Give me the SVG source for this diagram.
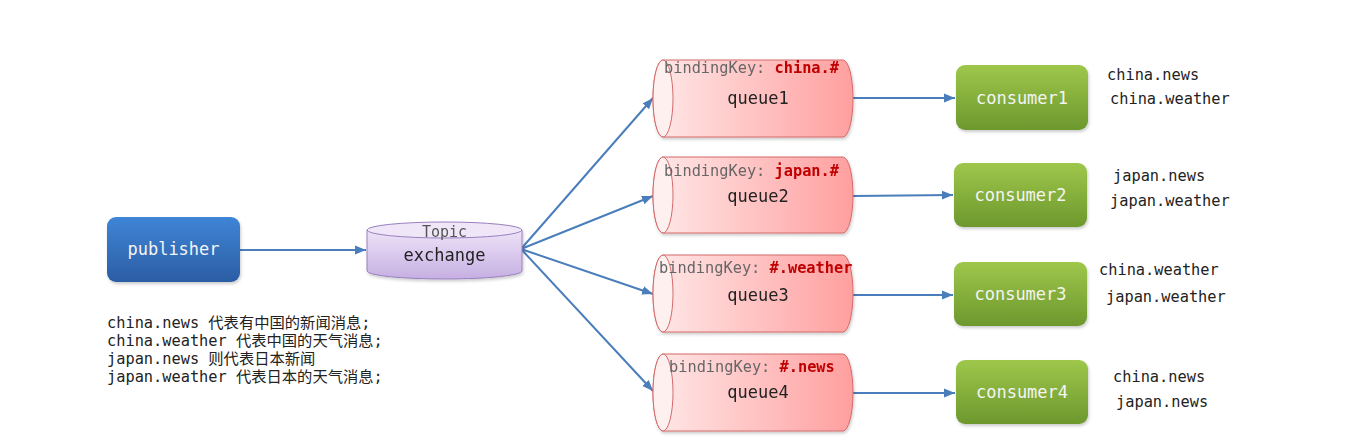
<svg xmlns="http://www.w3.org/2000/svg" width="1359" height="448" viewBox="0 0 1359 448">
<defs>
<linearGradient id="gBlue" x1="0" y1="0" x2="0" y2="1"><stop offset="0" stop-color="#3f85d6"/><stop offset="1" stop-color="#2b5da4"/></linearGradient>
<linearGradient id="gGreen" x1="0" y1="0" x2="0" y2="1"><stop offset="0" stop-color="#9ec74b"/><stop offset="1" stop-color="#6d982d"/></linearGradient>
<linearGradient id="gPurple" x1="0" y1="0" x2="0" y2="1"><stop offset="0" stop-color="#eee3f8"/><stop offset="1" stop-color="#c6afe2"/></linearGradient>
<linearGradient id="gRed" x1="0" y1="0" x2="1" y2="0"><stop offset="0" stop-color="#ffe8e8"/><stop offset="1" stop-color="#ff9f9f"/></linearGradient>
<filter id="sh" x="-10%" y="-10%" width="125%" height="130%"><feDropShadow dx="1" dy="2" stdDeviation="1.5" flood-color="#000" flood-opacity="0.2"/></filter>
<marker id="ah" viewBox="0 0 10 10" refX="10" refY="5" markerWidth="11" markerHeight="11" markerUnits="userSpaceOnUse" orient="auto"><path d="M0,1 L10,5 L0,9 Z" fill="#4a7ebb"/></marker>
</defs>
<style>
.mono{font-family:"DejaVu Sans Mono","Liberation Mono","Noto Sans CJK SC",monospace;}
.edge{stroke:#4a7ebb;stroke-width:2;fill:none;marker-end:url(#ah);}
.q{fill:url(#gRed);stroke:#d46a6a;stroke-width:1;}
.qcap{fill:#fff0f0;stroke:#d46a6a;stroke-width:1;}
.c{fill:url(#gGreen);}
.ct{font-size:17px;fill:#f4f4f4;text-anchor:middle;}
.qt{font-size:17px;fill:#222;text-anchor:middle;}
.bk{font-size:15.3px;fill:#666;}
.bv{fill:#c00000;font-weight:bold;}
.lbl{font-size:15.3px;fill:#222;}
</style>
<g id="connectors">
<line class="edge" x1="240" y1="250" x2="366" y2="250"/>
<line class="edge" x1="521" y1="249" x2="653" y2="98"/>
<line class="edge" x1="521" y1="249" x2="653" y2="196"/>
<line class="edge" x1="521" y1="249" x2="653" y2="294"/>
<line class="edge" x1="521" y1="249" x2="653" y2="391"/>
<line class="edge" x1="853" y1="98" x2="955" y2="98"/>
<line class="edge" x1="853" y1="196" x2="953" y2="195"/>
<line class="edge" x1="853" y1="295" x2="953" y2="295"/>
<line class="edge" x1="853" y1="393" x2="955" y2="393"/>
</g>
<g id="publisher">
<rect x="107" y="217" width="133" height="65" rx="9" fill="url(#gBlue)" filter="url(#sh)"/>
<text class="mono ct" x="173.5" y="255">publisher</text>
</g>
<g id="exchange" filter="url(#sh)">
<path d="M367,230 L367,271 A77.5,8 0 0 0 522,271 L522,230 Z" fill="url(#gPurple)" stroke="#9a80c0" stroke-width="1"/>
<ellipse cx="444.5" cy="230" rx="77.5" ry="8" fill="#efe6f8" stroke="#9a80c0" stroke-width="1"/>
<text class="mono" x="444.5" y="237" font-size="15" fill="#555" text-anchor="middle">Topic</text>
<text class="mono qt" x="444.5" y="261">exchange</text>
</g>
<g id="queue1" filter="url(#sh)">
<path class="q" d="M663,60 L843,60 A10,38.5 0 0 1 843,137 L663,137 A10,38.5 0 0 1 663,60 Z"/>
<ellipse class="qcap" cx="663" cy="98.5" rx="10" ry="38.5"/>
<text class="mono bk" x="664" y="73">bindingKey: <tspan class="bv">china.#</tspan></text>
<text class="mono qt" x="758" y="104">queue1</text>
</g>
<g id="queue2" filter="url(#sh)">
<path class="q" d="M663,157 L843,157 A10,38 0 0 1 843,233 L663,233 A10,38 0 0 1 663,157 Z"/>
<ellipse class="qcap" cx="663" cy="195" rx="10" ry="38"/>
<text class="mono bk" x="664" y="176">bindingKey: <tspan class="bv">japan.#</tspan></text>
<text class="mono qt" x="758" y="202">queue2</text>
</g>
<g id="queue3" filter="url(#sh)">
<path class="q" d="M663,255 L843,255 A10,38.5 0 0 1 843,332 L663,332 A10,38.5 0 0 1 663,255 Z"/>
<ellipse class="qcap" cx="663" cy="293.5" rx="10" ry="38.5"/>
<text class="mono bk" x="659" y="273">bindingKey: <tspan class="bv">#.weather</tspan></text>
<text class="mono qt" x="758" y="301">queue3</text>
</g>
<g id="queue4" filter="url(#sh)">
<path class="q" d="M663,354 L843,354 A10,38.5 0 0 1 843,431 L663,431 A10,38.5 0 0 1 663,354 Z"/>
<ellipse class="qcap" cx="663" cy="392.5" rx="10" ry="38.5"/>
<text class="mono bk" x="669" y="372">bindingKey: <tspan class="bv">#.news</tspan></text>
<text class="mono qt" x="758" y="398">queue4</text>
</g>
<g id="consumer1">
<rect class="c" x="956" y="65" width="132" height="65" rx="9" filter="url(#sh)"/>
<text class="mono ct" x="1022" y="104">consumer1</text>
</g>
<g id="consumer2">
<rect class="c" x="954" y="163" width="133" height="64" rx="9" filter="url(#sh)"/>
<text class="mono ct" x="1020.5" y="201">consumer2</text>
</g>
<g id="consumer3">
<rect class="c" x="954" y="262" width="133" height="64" rx="9" filter="url(#sh)"/>
<text class="mono ct" x="1020.5" y="300">consumer3</text>
</g>
<g id="consumer4">
<rect class="c" x="956" y="360" width="132" height="64" rx="9" filter="url(#sh)"/>
<text class="mono ct" x="1022" y="398">consumer4</text>
</g>
<g id="labels">
<text class="mono lbl" x="1107" y="80">china.news</text>
<text class="mono lbl" x="1110" y="104">china.weather</text>
<text class="mono lbl" x="1113" y="181">japan.news</text>
<text class="mono lbl" x="1110" y="206">japan.weather</text>
<text class="mono lbl" x="1099" y="275">china.weather</text>
<text class="mono lbl" x="1106" y="302">japan.weather</text>
<text class="mono lbl" x="1113" y="382">china.news</text>
<text class="mono lbl" x="1116" y="407">japan.news</text>
<text class="mono lbl" x="107" y="328">china.news 代表有中国的新闻消息;</text>
<text class="mono lbl" x="107" y="346">china.weather 代表中国的天气消息;</text>
<text class="mono lbl" x="107" y="364">japan.news 则代表日本新闻</text>
<text class="mono lbl" x="107" y="382">japan.weather 代表日本的天气消息;</text>
</g>
</svg>
